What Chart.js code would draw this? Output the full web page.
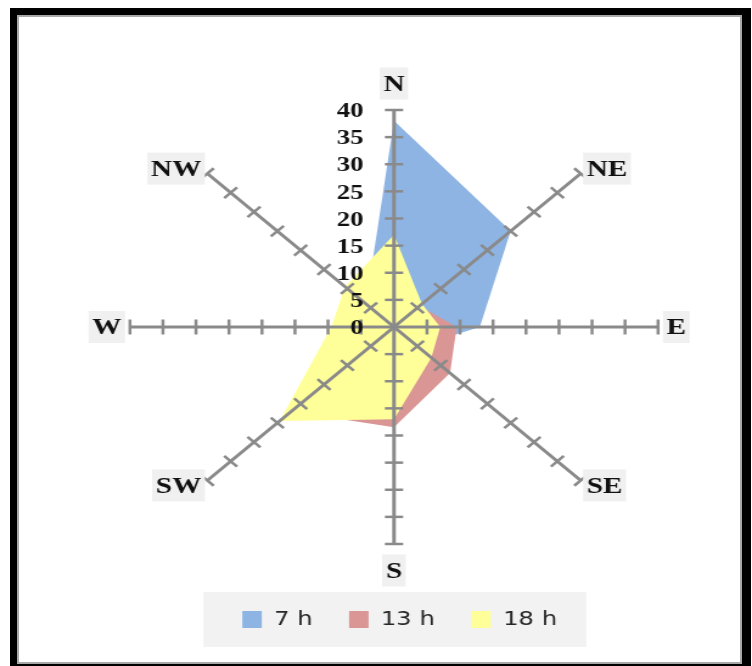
<!DOCTYPE html>
<html><head><meta charset="utf-8">
<script src="https://cdn.jsdelivr.net/npm/chart.js@4/dist/chart.umd.min.js"></script>
<style>
html,body{margin:0;padding:0;background:#fff;width:752px;height:666px;overflow:hidden;}
#outer{position:absolute;left:10px;top:8px;width:741px;height:670px;background:#000;}
#inner{position:absolute;left:17px;top:15px;width:721px;height:645px;background:#fff;border:2px solid #a8a8a8;}
#wrap{position:absolute;left:0;top:0;width:618px;height:666px;transform:scaleX(1.2168);transform-origin:0 0;}
</style></head><body>
<div id="outer"></div><div id="inner"></div>
<div id="wrap"><canvas id="c" width="618" height="666"></canvas></div>
<script>
const directions = ['N','NE','E','SE','S','SW','W','NW'];
const seriesNames = ['7 h','13 h','18 h'];
const h7  = [38, 25, 13, 5, 3, 2, 2, 6];
const h13 = [4, 5.5, 9.5, 12, 18.5, 22, 6, 3];
const h18 = [17, 6, 7, 8, 17, 24.5, 9.5, 10.5];
const tickValues = [0, 5, 10, 15, 20, 25, 30, 35, 40];
const seriesColors = ['#8eb4e3', '#d99694', '#ffff99'];

const CX = 323.8, CY = 327, R = 217;
const AXIS = '#8a8a8a';

const decor = {
  id: 'decor',
  beforeDraw(chart) {
    const hb = chart.legend && chart.legend.legendHitBoxes;
    if (!hb || !hb.length) return;
    const first = hb[0], last = hb[hb.length - 1];
    const ctx = chart.ctx;
    ctx.save();
    ctx.fillStyle = '#f2f2f2';
    const l = first.left - 32, r = last.left + last.width + 24;
    const t = first.top - 17.5, b = first.top + first.height + 17.5;
    ctx.fillRect(l, t, r - l, b - t);
    ctx.restore();
  },
  afterDraw(chart) {
    const s = chart.scales.r;
    const ctx = chart.ctx;
    ctx.save();
    ctx.strokeStyle = AXIS;
    ctx.lineWidth = 2.5;
    for (let i = 0; i < directions.length; i++) {
      const a = s.getIndexAngle(i) - Math.PI / 2;
      const px = -Math.sin(a), py = Math.cos(a);
      tickValues.forEach(v => {
        if (v === 0) return;
        const p = s.getPointPositionForValue(i, v);
        ctx.beginPath();
        ctx.moveTo(p.x + px * 7.5, p.y + py * 7.5);
        ctx.lineTo(p.x - px * 7.5, p.y - py * 7.5);
        ctx.stroke();
      });
    }
    // tick labels
    ctx.font = 'bold 22px "Liberation Serif"';
    ctx.fillStyle = '#111';
    ctx.textAlign = 'right';
    ctx.textBaseline = 'middle';
    tickValues.forEach(v => {
      const p = s.getPointPositionForValue(0, v);
      ctx.fillText(String(v), p.x - 25, p.y + 1.5);
    });
    // direction labels
    ctx.font = 'bold 24px "Liberation Serif"';
    directions.forEach((d, i) => {
      const vertical = (i === 0 || i === 4);
      const dist = vertical ? s.drawingArea + 26.5 : s.drawingArea + 7;
      const p = s.getPointPosition(i, dist);
      const w = ctx.measureText(d).width;
      let align = 'center', bx = p.x - w / 2;
      if (!vertical) {
        if (p.x > s.xCenter + 1) { align = 'left'; bx = p.x; }
        else if (p.x < s.xCenter - 1) { align = 'right'; bx = p.x - w; }
      }
      ctx.fillStyle = '#f0f0f0';
      ctx.fillRect(bx - 3, p.y - 16, w + 6, 32);
      ctx.fillStyle = '#111';
      ctx.textAlign = align;
      ctx.textBaseline = 'middle';
      ctx.fillText(d, p.x, p.y + 1);
    });
    ctx.restore();
  }
};

const sets = [h7, h13, h18];
new Chart(document.getElementById('c'), {
  type: 'radar',
  data: {
    labels: directions,
    datasets: sets.map((d, i) => ({
      label: seriesNames[i],
      data: d,
      backgroundColor: seriesColors[i],
      borderColor: seriesColors[i],
      borderWidth: 0,
      pointRadius: 0,
      pointHoverRadius: 0,
      fill: true,
      tension: 0,
      order: 3 - i
    }))
  },
  options: {
    responsive: false,
    animation: false,
    devicePixelRatio: 1,
    events: [],
    layout: { padding: { left: 39, right: 0, top: 0, bottom: 26.5 } },
    plugins: {
      legend: {
        position: 'bottom',
        labels: {
          font: { family: 'DejaVu Sans', size: 20 },
          color: '#262626',
          boxWidth: 16,
          boxHeight: 17,
          padding: 30,
          sort: (a, b) => a.datasetIndex - b.datasetIndex
        }
      },
      tooltip: { enabled: false }
    },
    scales: {
      r: {
        min: 0,
        max: 40,
        ticks: { display: false, stepSize: 5 },
        grid: { display: false, z: 1 },
        angleLines: { display: true, color: AXIS, lineWidth: 3 },
        pointLabels: { display: false },
        afterFit(scale) {
          scale.xCenter = CX;
          scale.yCenter = CY;
          scale.drawingArea = R;
        }
      }
    }
  },
  plugins: [decor]
});
</script>
</body></html>
